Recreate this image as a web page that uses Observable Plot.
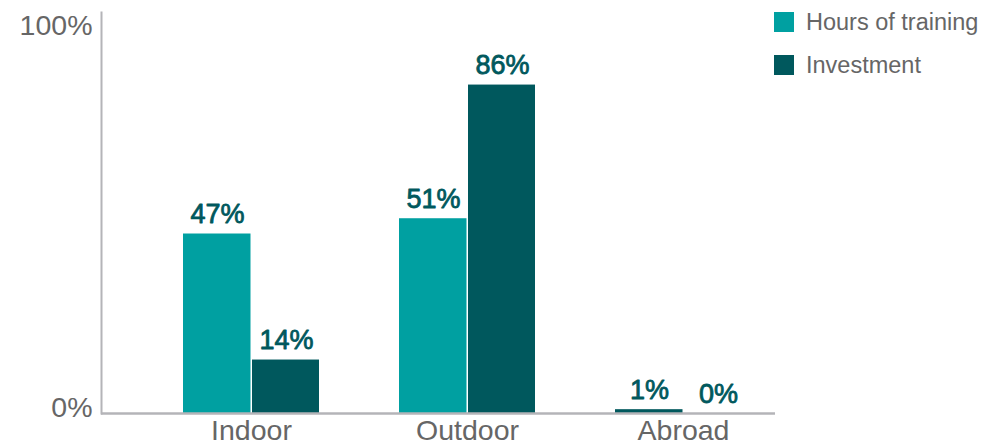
<!DOCTYPE html>
<html>
<head>
<meta charset="utf-8">
<script src="https://cdn.jsdelivr.net/npm/d3@7"></script>
<script src="https://cdn.jsdelivr.net/npm/@observablehq/plot@0.6"></script>
<style>
  html, body { margin: 0; padding: 0; background: #fff; }
  #wrap { position: relative; width: 987px; height: 448px; overflow: hidden; font-family: "Liberation Sans", Arial, sans-serif; }
  #legend { position: absolute; left: 774px; top: 12px; color: #666; font-size: 23.5px; }
  .item { display: flex; align-items: center; height: 20px; margin-bottom: 23px; white-space: nowrap; }
  .sw { width: 20px; height: 20px; margin-right: 12px; flex: none; }
</style>
</head>
<body>
<div id="wrap"><div id="legend"></div></div>
<script>
const categories = ["Indoor", "Outdoor", "Abroad"];
const hours = [47, 51, 1];
const investment = [14, 86, 0];
const yTicks = [0, 100];
const seriesNames = ["Hours of training", "Investment"];
const colors = ["#00a0a1", "#00585d"];

const data = categories.map((c, i) => ({category: c, hours: hours[i], investment: investment[i]}));

const labelStyle = {fill: colors[1], stroke: colors[1], strokeWidth: 0.8, fontSize: 27, lineAnchor: "bottom", dy: -11};

const chart = Plot.plot({
  width: 987,
  height: 448,
  marginLeft: 101,
  marginRight: 212,
  marginTop: 12,
  marginBottom: 35,
  style: {fontFamily: "'Liberation Sans', Arial, sans-serif", background: "#fff"},
  x: {domain: categories, paddingInner: 0.371, paddingOuter: 0.244, align: 0.777, label: null},
  y: {domain: [0, 105], label: null},
  marks: [
    Plot.barY(data, {x: "category", y: "hours", fill: d => d.category === "Abroad" ? colors[1] : colors[0], insetRight: 68.5}),
    Plot.barY(data, {x: "category", y: "investment", fill: colors[1], insetLeft: 69}),
    Plot.text(data, {x: "category", y: "hours", text: d => d.hours + "%", dx: -34, ...labelStyle}),
    Plot.text(data, {x: "category", y: "investment", text: d => d.investment + "%", dx: 35, ...labelStyle}),
    Plot.ruleY([0], {stroke: "#b4b4b8", strokeWidth: 2.5}),
    Plot.frame({anchor: "left", stroke: "#b4b4b8", strokeWidth: 2}),
    Plot.axisX({tickSize: 0, tickPadding: 6, fontSize: 28.5, fill: "#666", label: null}),
    Plot.axisY({ticks: yTicks, tickSize: 0, tickPadding: 9, tickFormat: d => d + "%", fontSize: 28.5, fill: "#666", dy: -6, label: null})
  ]
});
document.getElementById("wrap").prepend(chart);

const legend = document.getElementById("legend");
seriesNames.forEach((name, i) => {
  const item = document.createElement("div");
  item.className = "item";
  const sw = document.createElement("span");
  sw.className = "sw";
  sw.style.background = colors[i];
  const t = document.createElement("span");
  t.textContent = name;
  item.append(sw, t);
  legend.append(item);
});
</script>
</body>
</html>
